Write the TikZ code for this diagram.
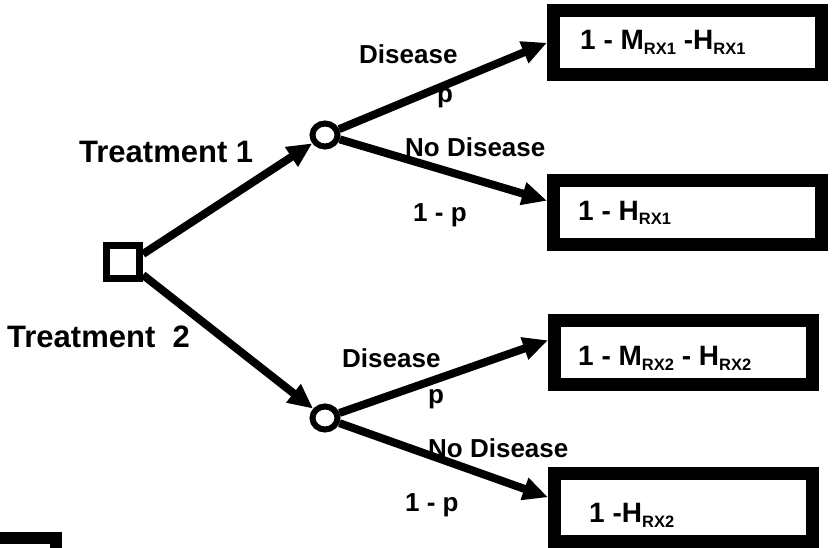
\documentclass[tikz,border=0pt]{standalone}
\usepackage{fontspec}
\setmainfont{Liberation Sans}
\usetikzlibrary{arrows.meta,calc,shapes.geometric}
\newcommand\subtx[1]{\raisebox{-5pt}{\fontsize{16.5}{18}\selectfont #1}}
\begin{document}
\begin{tikzpicture}[x=1pt,y=-1pt,
  decbox/.style={draw, line width=7pt, minimum size=33pt, inner sep=0pt},
  chance/.style={draw, ellipse, line width=6pt, minimum width=25pt, minimum height=23pt, inner sep=0pt},
  outbox/.style={draw, line width=13pt, inner sep=0pt},
  branch/.style={line width=8pt, -{Triangle[length=25pt,width=22pt]}},
  lbl/.style={anchor=base west, inner sep=0pt, font=\bfseries\fontsize{26}{28}\selectfont},
  trt/.style={anchor=base west, inner sep=0pt, font=\bfseries\fontsize{31}{33}\selectfont},
  boxtxt/.style={anchor=base west, inner sep=0pt, font=\bfseries\fontsize{28}{30}\selectfont}]
\useasboundingbox (0,0) rectangle (835,548);

% nodes
\node[decbox] (sq) at (123,262) {};
\node[chance] (c1) at (325,135) {};
\node[chance] (c2) at (325,418) {};

\node[outbox, minimum width=267.5pt, minimum height=64.5pt] (b1) at (687.25,42.75) {};
\node[outbox, minimum width=268pt, minimum height=63.5pt] (b2) at (687.5,212.75) {};
\node[outbox, minimum width=258pt, minimum height=63.5pt] (b3) at (683.5,352.25) {};
\node[outbox, minimum width=258pt, minimum height=67.5pt] (b4) at (683.5,507.25) {};

% box texts
\node[boxtxt] (t1) at (580,50) {1 - M\subtx{RX1} -H\subtx{RX1}};
\node[boxtxt] (t2) at (578,220) {1 - H\subtx{RX1}};
\node[boxtxt] (t3) at (578,365) {1 - M\subtx{RX2} - H\subtx{RX2}};
\node[boxtxt] (t4) at (589,522) {1 -H\subtx{RX2}};

% connectors
\draw[branch] ([yshift=8pt]sq.east) -- (c1);
\draw[branch] ([yshift=-13pt]sq.east) -- (c2);
\draw[branch] (c1) -- ([yshift=0pt]b1.west);
\draw[branch] (c1) -- ([yshift=12pt]b2.west);
\draw[branch] (c2) -- ([yshift=12pt]b3.west);
\draw[branch] (c2) -- ([yshift=10pt]b4.west);

% labels
\node[trt] (l1) at (79,163) {Treatment 1};
\node[trt] (l2) at (7,347) {Treatment \ 2};
\node[lbl] (d1) at (359,64) {Disease};
\node[lbl] (p1) at (437,103) {p};
\node[lbl] (n1) at (405,157) {No Disease};
\node[lbl] (q1) at (413,222) {1 - p};
\node[lbl] (d2) at (342,367) {Disease};
\node[lbl] (p2) at (428,403) {p};
\node[lbl] (n2) at (428,457) {No Disease};
\node[lbl] (q2) at (405,511) {1 - p};

% partial box at bottom-left corner
\draw[line width=12pt, line join=miter] (-10,537.5) -- (56,537.5) -- (56,560);
\end{tikzpicture}
\end{document}
